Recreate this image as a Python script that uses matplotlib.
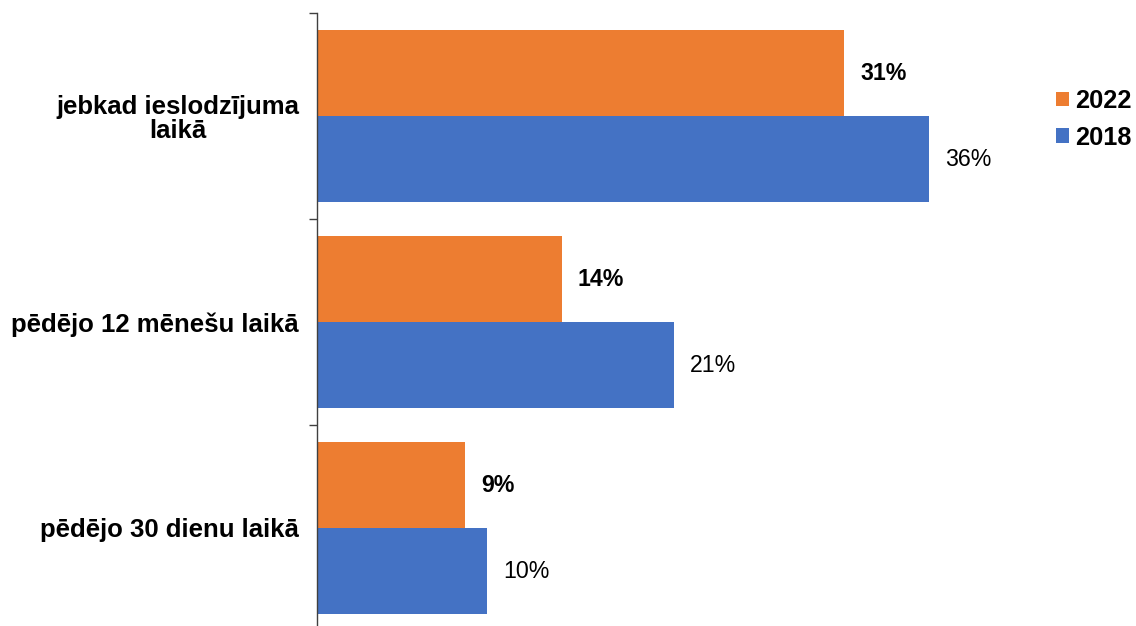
import matplotlib
matplotlib.use("Agg")
import matplotlib.pyplot as plt
import numpy as np

plt.rcParams['font.family'] = ['Liberation Sans', 'DejaVu Sans']

categories = ["jebkad ieslodzījuma\nlaikā", "pēdējo 12 mēnešu laikā", "pēdējo 30 dienu laikā"]
series_names = ["2022", "2018"]
values_2022 = [31, 14.4, 8.7]
values_2018 = [36, 21, 10]
colors = ["#ED7D31", "#4472C4"]

DPI = 100
W, H = 1136, 626
fig = plt.figure(figsize=(W / DPI, H / DPI), dpi=DPI)

left_px, right_px = 317, 1000
top_px, bottom_px = 13, 631
ax = fig.add_axes([left_px / W, 1 - bottom_px / H,
                   (right_px - left_px) / W, (bottom_px - top_px) / H])

px_per_pct = 17.0
ax.set_xlim(0, (right_px - left_px) / px_per_pct)
ax.set_ylim(len(categories) - 0.5, -0.5)

y = np.arange(len(categories))
bh = 86 / 206
bars_a = ax.barh(y - bh / 2, values_2022, height=bh, color=colors[0], label=series_names[0])
bars_b = ax.barh(y + bh / 2, values_2018, height=bh, color=colors[1], label=series_names[1])

off = 16 / px_per_pct
for yi, v in zip(y - bh / 2, values_2022):
    ax.text(v + off, yi, f"{v:.0f}%", va="center", ha="left",
            fontsize=16.7, fontweight="bold", color="black")
for yi, v in zip(y + bh / 2, values_2018):
    ax.text(v + off, yi, f"{v:.0f}%", va="center", ha="left",
            fontsize=16.7, color="black")

ax.set_yticks(np.arange(len(categories) + 1) - 0.5, minor=False)
ax.set_yticklabels([])
ax.set_yticks(y, minor=True)
ax.set_yticklabels(categories, minor=True, fontsize=18.5, fontweight="bold",
                   multialignment="center", linespacing=1.05)
ax.tick_params(axis="y", which="major", length=6, width=1, color="#404040", direction="out")
ax.tick_params(axis="y", which="minor", length=0, pad=13)

ax.set_xticks([])
for s in ["top", "right", "bottom"]:
    ax.spines[s].set_visible(False)
ax.spines["left"].set_color("#404040")
ax.spines["left"].set_linewidth(1)

leg = fig.legend(handles=[bars_a, bars_b], labels=series_names,
                 loc="upper left", bbox_to_anchor=(1056 / W, 1 - 89 / H),
                 frameon=False, prop={"weight": "bold", "size": 18.3},
                 handlelength=0.53, handleheight=0.53, handletextpad=0.24,
                 labelspacing=0.5, borderaxespad=0, borderpad=0)

fig.savefig("out.png", dpi=DPI)
